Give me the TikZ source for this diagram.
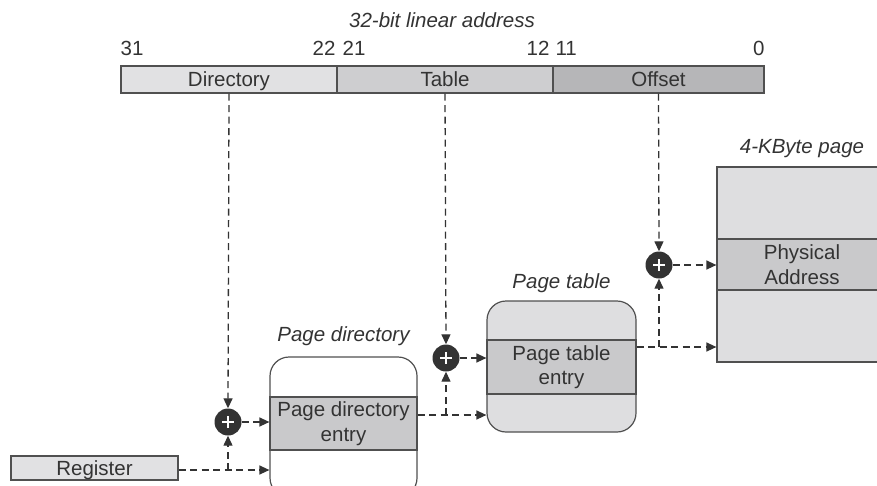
\documentclass[tikz,border=0pt]{standalone}
\usepackage{fontspec}
\setmainfont{Liberation Sans}
\usetikzlibrary{arrows.meta, positioning, calc}
\definecolor{mInk}{HTML}{333333}
\definecolor{mEdge}{HTML}{505050}
\definecolor{mLight}{HTML}{E1E1E3}
\definecolor{mMid}{HTML}{CECED0}
\definecolor{mDark}{HTML}{B6B6B8}
\definecolor{mBand}{HTML}{C9C9CB}
\definecolor{mPage}{HTML}{DEDEE0}

\begin{document}
\begin{tikzpicture}[x=1pt, y=-1pt,
    every node/.style={font=\fontsize{20.5}{24.5}\selectfont, text=mInk, inner sep=0pt},
    field/.style={draw=mEdge, line width=1.2pt, minimum height=27pt, text height=14.7pt, text depth=0pt},
    band/.style={draw=mEdge, line width=1.2pt, fill=mBand, align=center},
    tablebox/.style={draw=mEdge, line width=1.2pt, rounded corners=19pt},
    caption/.style={anchor=base, font=\itshape\fontsize{20.5}{24.5}\selectfont},
    bitno/.style={font=\fontsize{20.5}{24.5}\selectfont},
    adder/.style={circle, fill=mInk, minimum size=27pt,
      path picture={\draw[white, line width=1.5pt] (path picture bounding box.center)
        +(-6pt,0) -- +(6pt,0) +(0,-6pt) -- +(0,6pt);}},
    link/.style={draw=mInk, line width=1.3pt, dash pattern=on 7pt off 4.5pt,
      -{Triangle[length=10pt, width=9pt]}}
  ]
    \useasboundingbox (0,0) rectangle (877,485);

    % linear address
    \node[field, fill=mLight, minimum width=216pt] (dir) at (229,79.5) {Directory};
    \node[field, fill=mMid, minimum width=216pt] (tab) at (445,79.5) {Table};
    \node[field, fill=mDark, minimum width=211pt] (off) at (658.5,79.5) {Offset};
    \node[caption] (lin) at (442,27) {32-bit linear address};
    \node[bitno, anchor=base west] (b31) at ([yshift=10pt]dir.north west) {31};
    \node[bitno, anchor=base east] (b22) at ([xshift=-2pt, yshift=10pt]dir.north east) {22};
    \node[bitno, anchor=base west] (b21) at ([xshift=6pt, yshift=10pt]tab.north west) {21};
    \node[bitno, anchor=base east] (b12) at ([xshift=-4pt, yshift=10pt]tab.north east) {12};
    \node[bitno, anchor=base west] (b11) at ([xshift=3pt, yshift=10pt]off.north west) {11};
    \node[bitno, anchor=base east] (b0) at ([yshift=10pt]off.north east) {0};

    % register
    \node[field, fill=mLight, minimum width=167pt, minimum height=24pt] (reg) at (94.5,468) {Register};

    % page directory
    \node[tablebox, fill=white, minimum width=147pt, minimum height=140pt] (pd) at (343.5,427) {};
    \node[band, minimum width=147pt, minimum height=53pt] (pde) at (343.5,423.5) {Page directory\\entry};
    \node[caption] (pdl) at ([yshift=15pt]pd.north) {Page directory};

    % page table
    \node[tablebox, fill=mPage, minimum width=149pt, minimum height=131pt] (pt) at (561.5,366.5) {};
    \node[band, minimum width=149pt, minimum height=54pt] (pte) at (561.5,367) {Page table\\entry};
    \node[caption] (ptl) at ([yshift=12pt]pt.north) {Page table};

    % 4-KByte page
    \node[draw=mEdge, line width=1.2pt, fill=mPage, minimum width=170pt, minimum height=195pt] (pg) at (802,264.5) {};
    \node[band, minimum width=170pt, minimum height=51pt] (pga) at (802,264.5) {Physical\\Address};
    \node[caption] (pgl) at ([yshift=13pt]pg.north) {4-KByte page};

    % adders
    \node[adder] (s1) at (228,422) {};
    \node[adder] (s2) at (446,358) {};
    \node[adder] (s3) at (659,265) {};

    % connectors
    \draw[link] (dir.south) -- (s1.north);
    \draw[link] (reg.east |- 0,470) -- (pd.west |- 0,470);
    \draw[link] (s1 |- 0,470) -- (s1.south);
    \draw[link] (s1.east) -- (s1.east -| pd.west);

    \draw[link] (tab.south) -- (s2.north);
    \draw[link] (pde.east |- 0,415) -- (pt.west |- 0,415);
    \draw[link] (s2 |- 0,415) -- (s2.south);
    \draw[link] (s2.east) -- (s2.east -| pt.west);

    \draw[link] (off.south) -- (s3.north);
    \draw[link] (pte.east |- 0,347) -- (pg.west |- 0,347);
    \draw[link] (s3 |- 0,347) -- (s3.south);
    \draw[link] (s3.east) -- (s3.east -| pg.west);
\end{tikzpicture}
\end{document}
